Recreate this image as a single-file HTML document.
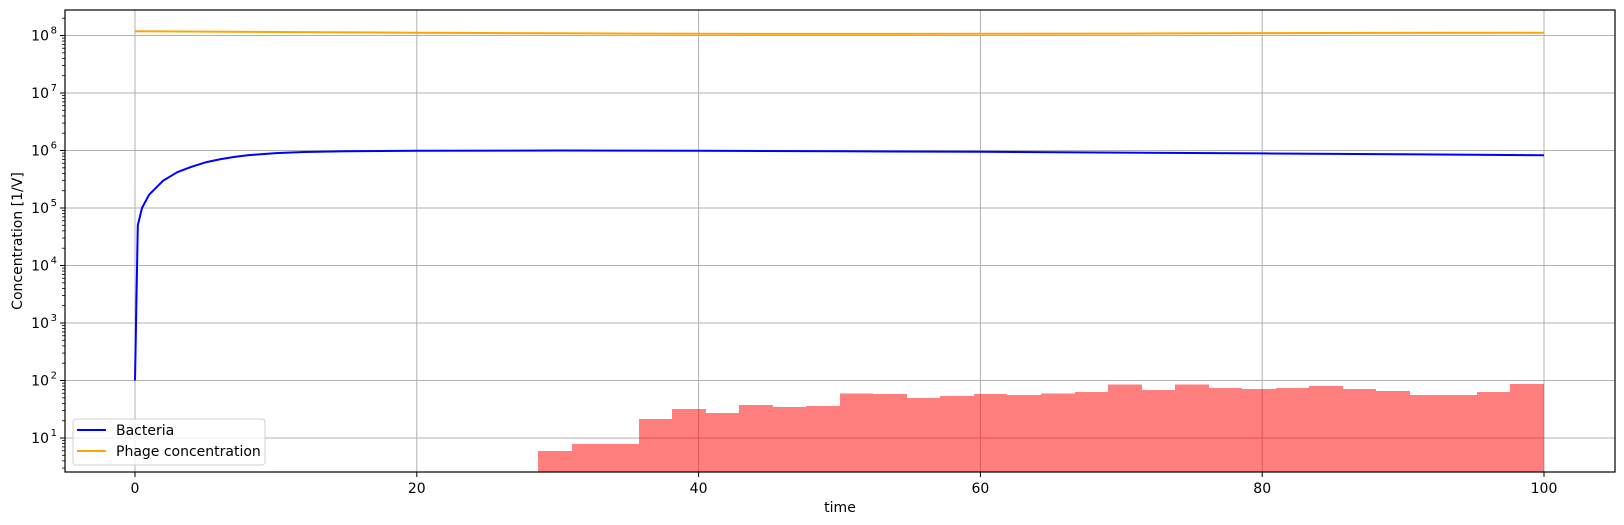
<!DOCTYPE html>
<html><head><meta charset="utf-8"><style>
body{margin:0;background:#fff}
svg{display:block;font-family:"DejaVu Sans","Liberation Sans",sans-serif}
</style></head><body>
<svg id="chart" width="1624" height="525" viewBox="0 0 1624 525" xmlns="http://www.w3.org/2000/svg">
<g id="grid"></g>
<g id="bars" shape-rendering="crispEdges"></g>
<g id="lines"></g>
<g id="axes"></g>
<text x="840" y="512" font-size="14" text-anchor="middle">time</text>
<text x="0" y="0" font-size="14" text-anchor="middle" transform="translate(22,241) rotate(-90)">Concentration [1/V]</text>
<g>
<rect x="73" y="419" width="192" height="46" rx="3" fill="#fff" fill-opacity="0.8" stroke="#d0d0d0"/>
<line x1="77" y1="430" x2="106" y2="430" stroke="#0000ff" stroke-width="2"/>
<text x="116" y="435" font-size="14">Bacteria</text>
<line x1="77" y1="451" x2="106" y2="451" stroke="#ffa500" stroke-width="2"/>
<text x="116" y="456" font-size="14">Phage concentration</text>
</g>
</svg>
<script>
const xTicks=[0,20,40,60,80,100];
const yDecades=[1,2,3,4,5,6,7,8];
const binStart=28.6, binWidth=2.38;
const binCounts=[5.9,7.9,7.9,21.4,32,27,37.5,34.6,36,60,58,49.5,53.5,58,56,60,63,84.5,68,84.5,74,71,74,80,71,65.6,56,56,63,87];
const bactT=[0,0.2,0.5,1,2,3,4,5,6,7,8,10,12,15,20,30,40,50,60,70,80,90,100];
const bactV=[100,5e4,1e5,1.7e5,3e5,4.2e5,5.2e5,6.2e5,7e5,7.7e5,8.3e5,9e5,9.4e5,9.7e5,9.9e5,1e6,9.9e5,9.7e5,9.5e5,9.2e5,8.9e5,8.6e5,8.3e5];
const phageT=[0,10,20,30,40,50,60,70,80,90,100];
const phageV=[1.19e8,1.15e8,1.12e8,1.09e8,1.07e8,1.065e8,1.07e8,1.08e8,1.1e8,1.11e8,1.12e8];

const L=65,R=1615,T=10,B=472;
const X=v=>135+v*14.09;
const Y=v=>438-(Math.log10(v)-1)*57.5;
const NS='http://www.w3.org/2000/svg';
function mk(tag,attrs,parent){const e=document.createElementNS(NS,tag);for(const k in attrs)e.setAttribute(k,attrs[k]);parent.appendChild(e);return e;}
const grid=document.getElementById('grid'),bars=document.getElementById('bars'),lines=document.getElementById('lines'),axes=document.getElementById('axes');
xTicks.forEach(t=>{const g=mk('line',{x1:X(t),x2:X(t),y1:T,y2:B,stroke:'#b0b0b0','stroke-width':1},grid);

});
yDecades.forEach(d=>{const y=Y(Math.pow(10,d));const g=mk('line',{x1:L,x2:R,y1:y,y2:y,stroke:'#b0b0b0','stroke-width':1},grid);

});
binCounts.forEach((c,i)=>{const x0=Math.round(X(binStart+i*binWidth)),x1=Math.round(X(binStart+(i+1)*binWidth));const y=Y(c);
const r=mk('rect',{x:x0,y:y,width:x1-x0,height:B-y,fill:'#ff0000','fill-opacity':0.5},bars);

});
function path(ts,vs,color,name){const d=ts.map((t,i)=>(i?'L':'M')+X(t).toFixed(1)+','+Y(vs[i]).toFixed(1)).join('');
const p=mk('path',{d:d,fill:'none',stroke:color,'stroke-width':2,'stroke-linejoin':'round'},lines);

}
path(phageT,phageV,'#ffa500','phage-line');
path(bactT,bactV,'#0000ff','bacteria-line');
const fr=mk('rect',{x:L,y:T,width:R-L,height:B-T,fill:'none',stroke:'#000','stroke-width':1.2},axes);


xTicks.forEach(t=>{mk('line',{x1:X(t),x2:X(t),y1:B,y2:B+5,stroke:'#000'},axes);
const tx=mk('text',{x:X(t),y:B+21,'font-size':14,'text-anchor':'middle'},axes);tx.textContent=t;

});
yDecades.forEach(d=>{const y=Y(Math.pow(10,d));mk('line',{x1:L-5,x2:L,y1:y,y2:y,stroke:'#000'},axes);
const tx=mk('text',{x:L-16,y:y+5,'font-size':14,'text-anchor':'end'},axes);tx.textContent='10';


const sp=mk('text',{x:L-8,y:y-2,'font-size':10,'text-anchor':'end'},axes);sp.textContent=d;

});
for(let d=0;d<=8;d++)for(let m=2;m<=9;m++){const y=Y(m*Math.pow(10,d));if(y<T||y>B)continue;mk('line',{x1:L-3,x2:L,y1:y,y2:y,stroke:'#000','stroke-width':0.8},axes);}
</script>
</body></html>
